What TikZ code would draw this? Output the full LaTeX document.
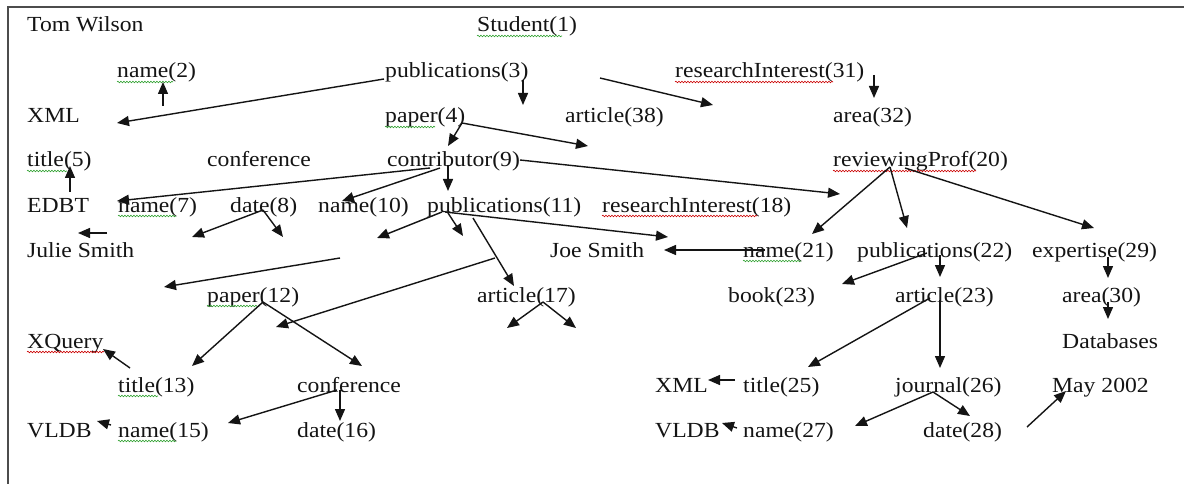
\documentclass[tikz,border=0pt]{standalone}
\usepackage{fontspec}
\setmainfont{Liberation Serif}[FakeStretch=1.1]
\usetikzlibrary{arrows.meta,decorations.pathmorphing}
\begin{document}
\begin{tikzpicture}[x=1pt,y=-1pt,
  lbl/.style={anchor=base west,inner sep=0pt,text=black!92,font=\fontsize{21.5}{25}\selectfont},
  arr/.style={line width=1.4pt,draw=black!92,-{Triangle[length=12pt,width=10pt]}},
  wavy/.style={line width=0.6pt,decorate,decoration={snake,amplitude=0.8pt,segment length=3pt}},
  wg/.style={wavy,draw=green!55!black!80},
  wr/.style={wavy,draw=red!80!black}]
\useasboundingbox (0,0) rectangle (1184,484);
\fill[white] (0,0) rectangle (1184,484);
\draw[line width=1.6pt,black!70] (8,484) -- (8,7) -- (1184,7);
% row baselines: 32 78 123 167 212 257 302 348 392 437
\node[lbl] (tom) at (27,32) {Tom Wilson};
\node[lbl] (n1) at (477,32) {Student(1)};
\node[lbl] (n2) at (117,78) {name(2)};
\node[lbl] (n3) at (385,78) {publications(3)};
\node[lbl] (n31) at (675,78) {researchInterest(31)};
\node[lbl] (xml1) at (27,123) {XML};
\node[lbl] (n4) at (385,123) {paper(4)};
\node[lbl] (n38) at (565,123) {article(38)};
\node[lbl] (n32) at (833,123) {area(32)};
\node[lbl] (n5) at (27,167) {title(5)};
\node[lbl] (conf1) at (207,167) {conference};
\node[lbl] (n9) at (387,167) {contributor(9)};
\node[lbl] (n20) at (833,167) {reviewingProf(20)};
\node[lbl] (edbt) at (27,212) {EDBT};
\node[lbl] (n7) at (118,212) {name(7)};
\node[lbl] (n8) at (230,212) {date(8)};
\node[lbl] (n10) at (318,212) {name(10)};
\node[lbl] (n11) at (427,212) {publications(11)};
\node[lbl] (n18) at (602,212) {researchInterest(18)};
\node[lbl] (julie) at (27,257) {Julie Smith};
\node[lbl] (joe) at (550,257) {Joe Smith};
\node[lbl] (n21) at (743,257) {name(21)};
\node[lbl] (n22) at (857,257) {publications(22)};
\node[lbl] (n29) at (1032,257) {expertise(29)};
\node[lbl] (n12) at (207,302) {paper(12)};
\node[lbl] (n17) at (477,302) {article(17)};
\node[lbl] (n23b) at (728,302) {book(23)};
\node[lbl] (n23a) at (895,302) {article(23)};
\node[lbl] (n30) at (1062,302) {area(30)};
\node[lbl] (xq) at (27,348) {XQuery};
\node[lbl] (db) at (1062,348) {Databases};
\node[lbl] (n13) at (118,392) {title(13)};
\node[lbl] (conf2) at (297,392) {conference};
\node[lbl] (xml2) at (655,392) {XML};
\node[lbl] (n25) at (743,392) {title(25)};
\node[lbl] (n26) at (895,392) {journal(26)};
\node[lbl] (may) at (1052,392) {May 2002};
\node[lbl] (vldb1) at (27,437) {VLDB};
\node[lbl] (n15) at (118,437) {name(15)};
\node[lbl] (n16) at (297,437) {date(16)};
\node[lbl] (vldb2) at (655,437) {VLDB};
\node[lbl] (n27) at (743,437) {name(27)};
\node[lbl] (n28) at (923,437) {date(28)};
% spell-check squiggles
\draw[wg] ([yshift=-4pt]n1.base west) -- ++(85,0);
\draw[wg] ([yshift=-4pt]n2.base west) -- ++(56,0);
\draw[wg] ([yshift=-4pt]n4.base west) -- ++(50,0);
\draw[wr] ([yshift=-4pt]n31.base west) -- ++(158,0);
\draw[wg] ([yshift=-4pt]n5.base west) -- ++(40,0);
\draw[wg] ([yshift=-4pt]n7.base west) -- ++(58,0);
\draw[wr] ([yshift=-4pt]n20.base west) -- ++(143,0);
\draw[wr] ([yshift=-4pt]n18.base west) -- ++(155,0);
\draw[wg] ([yshift=-4pt]n21.base west) -- ++(58,0);
\draw[wg] ([yshift=-4pt]n12.base west) -- ++(53,0);
\draw[wr] ([yshift=-4pt]xq.base west) -- ++(77,0);
\draw[wg] ([yshift=-4pt]n13.base west) -- ++(40,0);
\draw[wg] ([yshift=-4pt]n15.base west) -- ++(58,0);
% connector end points
\coordinate (a1s) at (163,106);  \coordinate (a1e) at (163,82);
\coordinate (a2s) at (384,79);   \coordinate (a2e) at (117,123);
\coordinate (a3s) at (523,80);   \coordinate (a3e) at (523,105);
\coordinate (a4s) at (600,78);   \coordinate (a4e) at (713,105);
\coordinate (a5s) at (874,75);   \coordinate (a5e) at (874,98);
\coordinate (a6s) at (462,123);  \coordinate (a6e) at (448,146);
\coordinate (a7e) at (588,146);
\coordinate (a8s) at (70,192);   \coordinate (a8e) at (70,166);
\coordinate (a9s) at (430,168);  \coordinate (a9e) at (117,201);
\coordinate (a10s) at (440,168); \coordinate (a10e) at (342,201);
\coordinate (a11s) at (448,165); \coordinate (a11e) at (448,191);
\coordinate (a12s) at (520,160); \coordinate (a12e) at (840,194);
\coordinate (a13s) at (890,167); \coordinate (a13e) at (812,234);
\coordinate (a14e) at (907,228);
\coordinate (a15s) at (905,168); \coordinate (a15e) at (1094,228);
\coordinate (a16s) at (107,233); \coordinate (a16e) at (78,233);
\coordinate (a17s) at (263,210); \coordinate (a17e) at (192,237);
\coordinate (a18e) at (283,237);
\coordinate (a19s) at (442,212); \coordinate (a19e) at (377,238);
\coordinate (a20s) at (448,213); \coordinate (a20e) at (463,236);
\coordinate (a21s) at (473,218); \coordinate (a21e) at (514,286);
\coordinate (a22s) at (445,212); \coordinate (a22e) at (668,237);
\coordinate (a23s) at (765,250); \coordinate (a23e) at (664,250);
\coordinate (a24s) at (340,258); \coordinate (a24e) at (164,287);
\coordinate (a25s) at (495,258); \coordinate (a25e) at (276,327);
\coordinate (a26s) at (543,302); \coordinate (a26e) at (507,328);
\coordinate (a27e) at (576,328);
\coordinate (a28s) at (927,253); \coordinate (a28e) at (842,284);
\coordinate (a29s) at (940,255); \coordinate (a29e) at (940,277);
\coordinate (a30s) at (1108,257); \coordinate (a30e) at (1108,278);
\coordinate (a31s) at (1108,302); \coordinate (a31e) at (1108,319);
\coordinate (a32s) at (263,302); \coordinate (a32e) at (192,366);
\coordinate (a33e) at (362,366);
\coordinate (a34s) at (130,368); \coordinate (a34e) at (103,349);
\coordinate (a35s) at (930,298); \coordinate (a35e) at (808,367);
\coordinate (a36s) at (940,300); \coordinate (a36e) at (940,368);
\coordinate (a37s) at (735,380); \coordinate (a37e) at (708,380);
\coordinate (a38s) at (337,390); \coordinate (a38e) at (228,423);
\coordinate (a39s) at (340,390); \coordinate (a39e) at (340,421);
\coordinate (a40s) at (111,425); \coordinate (a40e) at (97,421);
\coordinate (a41s) at (737,428); \coordinate (a41e) at (722,423);
\coordinate (a42s) at (933,392); \coordinate (a42e) at (855,426);
\coordinate (a43e) at (970,416);
\coordinate (a44s) at (1027,427); \coordinate (a44e) at (1066,391);
% connectors
\draw[arr] (a1s) -- (a1e);
\draw[arr] (a2s) -- (a2e);
\draw[arr] (a3s) -- (a3e);
\draw[arr] (a4s) -- (a4e);
\draw[arr] (a5s) -- (a5e);
\draw[arr] (a6s) -- (a6e);
\draw[arr] (a6s) -- (a7e);
\draw[arr] (a8s) -- (a8e);
\draw[arr] (a9s) -- (a9e);
\draw[arr] (a10s) -- (a10e);
\draw[arr] (a11s) -- (a11e);
\draw[arr] (a12s) -- (a12e);
\draw[arr] (a13s) -- (a13e);
\draw[arr] (a13s) -- (a14e);
\draw[arr] (a15s) -- (a15e);
\draw[arr] (a16s) -- (a16e);
\draw[arr] (a17s) -- (a17e);
\draw[arr] (a17s) -- (a18e);
\draw[arr] (a19s) -- (a19e);
\draw[arr] (a20s) -- (a20e);
\draw[arr] (a21s) -- (a21e);
\draw[arr] (a22s) -- (a22e);
\draw[arr] (a23s) -- (a23e);
\draw[arr] (a24s) -- (a24e);
\draw[arr] (a25s) -- (a25e);
\draw[arr] (a26s) -- (a26e);
\draw[arr] (a26s) -- (a27e);
\draw[arr] (a28s) -- (a28e);
\draw[arr] (a29s) -- (a29e);
\draw[arr] (a30s) -- (a30e);
\draw[arr] (a31s) -- (a31e);
\draw[arr] (a32s) -- (a32e);
\draw[arr] (a32s) -- (a33e);
\draw[arr] (a34s) -- (a34e);
\draw[arr] (a35s) -- (a35e);
\draw[arr] (a36s) -- (a36e);
\draw[arr] (a37s) -- (a37e);
\draw[arr] (a38s) -- (a38e);
\draw[arr] (a39s) -- (a39e);
\draw[arr] (a40s) -- (a40e);
\draw[arr] (a41s) -- (a41e);
\draw[arr] (a42s) -- (a42e);
\draw[arr] (a42s) -- (a43e);
\draw[arr] (a44s) -- (a44e);
\end{tikzpicture}
\end{document}
